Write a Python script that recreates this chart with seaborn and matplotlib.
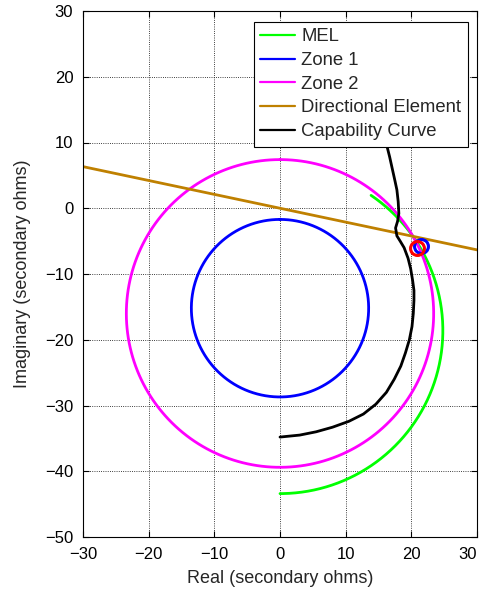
import numpy as np
import pandas as pd
import matplotlib
matplotlib.use("Agg")
import matplotlib.pyplot as plt
import seaborn as sns

# ---- characteristic definitions (secondary ohms) ----
zone1_center = (0.0, -15.2)
zone1_radius = 13.5

zone2_center = (0.0, -16.0)
zone2_radius = 23.4

mel_center = (0.0, -18.6)
mel_radius = 24.8
mel_start_deg = 56.0     # upper end of the MEL arc
mel_end_deg = -90.0      # lower end (on the imaginary axis)

dir_x = [-30.0, 30.0]
dir_y = [6.33, -6.33]

cap_x = [15.9, 16.3, 16.7, 17.1, 17.5, 17.8, 18.0, 18.1, 17.9, 17.6, 17.8,
         18.3, 18.9, 19.5, 19.9, 20.2, 20.4, 20.4, 20.3, 20.1, 19.7, 19.1,
         18.4, 17.4, 16.2, 14.6, 12.7, 10.5, 8.0, 5.5, 3.0, 0.0]
cap_y = [11.0, 9.4, 7.8, 6.0, 4.2, 2.8, 1.0, -0.8, -2.0, -3.0, -4.2,
         -5.0, -6.0, -7.6, -9.2, -11.0, -12.5, -14.0, -16.0, -18.0, -20.0, -22.0,
         -24.0, -26.0, -28.0, -29.8, -31.3, -32.4, -33.3, -34.0, -34.5, -34.8]

marker_blue = (21.4, -5.8)
marker_red = (20.9, -6.1)

x_ticks = [-30, -20, -10, 0, 10, 20, 30]
y_ticks = [-50, -40, -30, -20, -10, 0, 10, 20, 30]


def arc(center, radius, start_deg, end_deg, n=400):
    t = np.radians(np.linspace(start_deg, end_deg, n))
    return pd.DataFrame({"x": center[0] + radius * np.cos(t),
                         "y": center[1] + radius * np.sin(t)})


sns.set_style("ticks")
plt.rcParams["font.family"] = ["Liberation Sans", "DejaVu Sans"]
plt.rcParams["axes.unicode_minus"] = True

fig = plt.figure(figsize=(4.84, 5.93), dpi=100)
ax = fig.add_axes([83 / 484, 1 - 537 / 593, 394 / 484, 526 / 593])

lw = 2.0
mel = arc(mel_center, mel_radius, mel_start_deg, mel_end_deg)
z1 = arc(zone1_center, zone1_radius, 90, 450)
z2 = arc(zone2_center, zone2_radius, 90, 450)
de = pd.DataFrame({"x": dir_x, "y": dir_y})
cap = pd.DataFrame({"x": cap_x, "y": cap_y})

sns.lineplot(data=mel, x="x", y="y", sort=False, estimator=None, color="#00FF00", lw=lw, ax=ax, label="MEL")
sns.lineplot(data=z1, x="x", y="y", sort=False, estimator=None, color="#0000FF", lw=lw, ax=ax, label="Zone 1")
sns.lineplot(data=z2, x="x", y="y", sort=False, estimator=None, color="#FF00FF", lw=lw, ax=ax, label="Zone 2")
sns.lineplot(data=de, x="x", y="y", sort=False, estimator=None, color="#BF8000", lw=lw, ax=ax, label="Directional Element")
sns.lineplot(data=cap, x="x", y="y", sort=False, estimator=None, color="black", lw=lw, ax=ax, label="Capability Curve")

ax.plot([marker_blue[0]], [marker_blue[1]], "o", mfc="none", mec="#0000FF", ms=10, mew=2.2)
ax.plot([marker_red[0]], [marker_red[1]], "o", mfc="none", mec="#FF0000", ms=10, mew=2.2)

ax.set_xlim(-30, 30)
ax.set_ylim(-50, 30)
ax.set_xticks(x_ticks)
ax.set_yticks(y_ticks)
ax.grid(True, color="black", linestyle=":", linewidth=0.6)
ax.set_axisbelow(True)
for s in ax.spines.values():
    s.set_visible(True)
    s.set_color("black")
    s.set_linewidth(0.8)
ax.tick_params(direction="in", top=True, right=True, length=4, width=0.8,
               labelsize=12, pad=7, colors="black")
ax.get_xticklabels()[-1].set_horizontalalignment("right")
ax.set_xlabel("Real (secondary ohms)", fontsize=13, labelpad=6)
ax.set_ylabel("Imaginary (secondary ohms)", fontsize=13, labelpad=10)

leg = ax.legend(loc="upper right", bbox_to_anchor=(1 - 9.4 / 394, 1 - 11 / 526),
                borderaxespad=0, frameon=True, fancybox=False, framealpha=1,
                edgecolor="black", fontsize=13.3, handlelength=1.85,
                labelspacing=0.36, borderpad=0.35, handletextpad=0.35)
leg.get_frame().set_linewidth(0.8)
for h in leg.get_lines():
    h.set_linewidth(1.6)
leg.set_zorder(10)

fig.savefig("out.png", dpi=100)
